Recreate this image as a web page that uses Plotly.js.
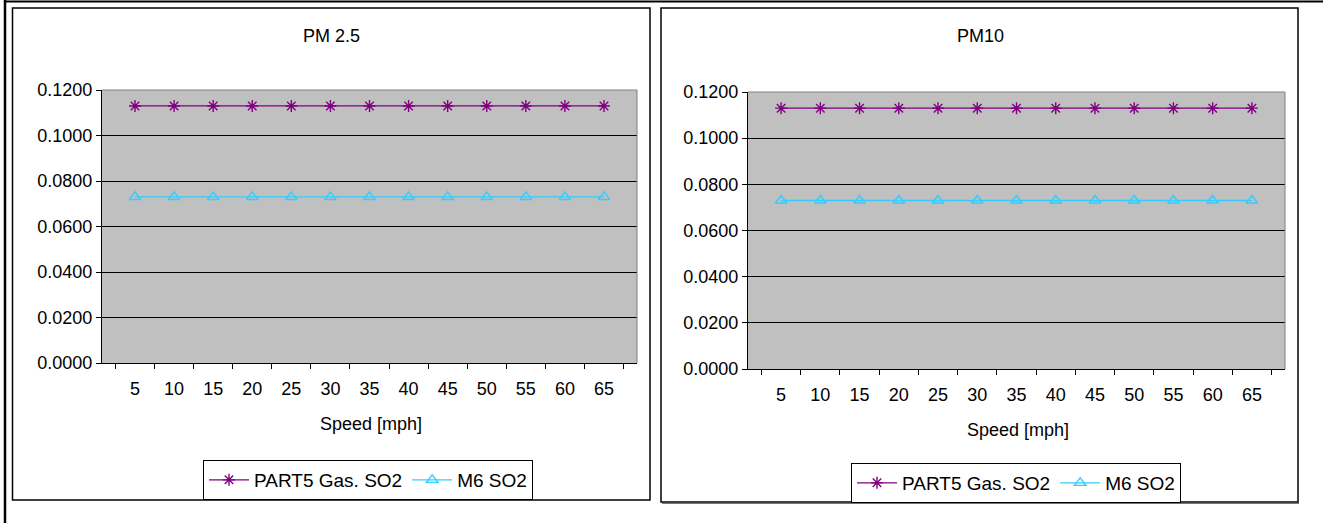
<!DOCTYPE html>
<html>
<head>
<meta charset="utf-8">
<script src="https://cdn.plot.ly/plotly-3.0.1.min.js"></script>
<style>html,body{margin:0;padding:0;background:#fff;}#chart{width:1323px;height:523px;}</style>
</head>
<body>
<div id="chart"></div>
<script>
// ---- data ----
const speeds = ['5','10','15','20','25','30','35','40','45','50','55','60','65'];
const part5PM25 = [0.113,0.113,0.113,0.113,0.113,0.113,0.113,0.113,0.113,0.113,0.113,0.113,0.113];
const m6PM25    = [0.073,0.073,0.073,0.073,0.073,0.073,0.073,0.073,0.073,0.073,0.073,0.073,0.073];
const part5PM10 = [0.113,0.113,0.113,0.113,0.113,0.113,0.113,0.113,0.113,0.113,0.113,0.113,0.113];
const m6PM10    = [0.073,0.073,0.073,0.073,0.073,0.073,0.073,0.073,0.073,0.073,0.073,0.073,0.073];
const yTicks = [0, 0.02, 0.04, 0.06, 0.08, 0.10, 0.12];
const seriesNames = ['PART5 Gas. SO2', 'M6 SO2'];
const chartTitles = ['PM 2.5', 'PM10'];
const xTitle = 'Speed [mph]';

const W = 1323, H = 523;
const px = v => v / W;
const py = v => 1 - v / H;
const FONT = 'Liberation Sans, Arial, sans-serif';
const FS = 18;
const LFS = 19;
const purple = '#800080';
const cyan = '#33CCFF';

function traces(p5, m6, xa, ya, lg) {
  return [
    {x: speeds, y: p5, name: seriesNames[0], type: 'scatter', mode: 'lines+markers',
     xaxis: xa, yaxis: ya, legend: lg,
     line: {color: purple, width: 1.3},
     marker: {symbol: 'asterisk-open', size: 10, color: purple, line: {color: purple, width: 1.4}}},
    {x: speeds, y: m6, name: seriesNames[1], type: 'scatter', mode: 'lines+markers',
     xaxis: xa, yaxis: ya, legend: lg,
     line: {color: cyan, width: 1.3},
     marker: {symbol: 'triangle-up-open', size: 10, color: cyan, line: {color: cyan, width: 1.4}}}
  ];
}

const data = [...traces(part5PM25, m6PM25, 'x', 'y', 'legend'),
              ...traces(part5PM10, m6PM10, 'x2', 'y2', 'legend2')];

function xax(domain, anchor) {
  return {domain: domain, anchor: anchor, type: 'category', showline: true, linecolor: '#000', linewidth: 1,
    ticks: 'outside', tickson: 'boundaries', ticklen: 5, tickcolor: '#000', showgrid: false,
    ticklabelstandoff: 9, tickfont: {family: FONT, size: FS, color: '#000'}, fixedrange: true};
}
function yax(domain, anchor) {
  return {domain: domain, anchor: anchor, range: [0, 0.12], tickvals: yTicks, tickformat: '.4f',
    showline: true, linecolor: '#000', linewidth: 1, ticks: 'outside', ticklen: 5, tickcolor: '#000',
    showgrid: true, gridcolor: '#000', gridwidth: 1, zeroline: false,
    tickfont: {family: FONT, size: FS, color: '#000'}, fixedrange: true};
}

const p1 = {l: 102, r: 637, t: 90, b: 363};
const p2 = {l: 748, r: 1285, t: 92, b: 369};

function legendCfg(x, y) {
  return {orientation: 'h', x: px(x), y: py(y), xanchor: 'left', yanchor: 'top',
    bordercolor: '#000', borderwidth: 1, bgcolor: '#fff', font: {family: FONT, size: LFS},
    itemwidth: 40, itemclick: false, itemdoubleclick: false};
}

const layout = {
  width: W, height: H, margin: {l: 0, r: 0, t: 0, b: 0},
  paper_bgcolor: '#fff', plot_bgcolor: '#C0C0C0',
  font: {family: FONT, size: FS, color: '#000'},
  xaxis: xax([px(p1.l), px(p1.r)], 'y'),
  yaxis: yax([py(p1.b), py(p1.t)], 'x'),
  xaxis2: xax([px(p2.l), px(p2.r)], 'y2'),
  yaxis2: yax([py(p2.b), py(p2.t)], 'x2'),
  legend: legendCfg(203, 460),
  legend2: legendCfg(851, 463),
  annotations: [
    {text: chartTitles[0], xref: 'paper', yref: 'paper', x: px(331), y: py(36), showarrow: false,
     xanchor: 'center', yanchor: 'middle', font: {family: FONT, size: FS}},
    {text: chartTitles[1], xref: 'paper', yref: 'paper', x: px(980), y: py(36), showarrow: false,
     xanchor: 'center', yanchor: 'middle', font: {family: FONT, size: FS}},
    {text: xTitle, xref: 'paper', yref: 'paper', x: px(371), y: py(424), showarrow: false,
     xanchor: 'center', yanchor: 'middle', font: {family: FONT, size: FS}},
    {text: xTitle, xref: 'paper', yref: 'paper', x: px(1018), y: py(430), showarrow: false,
     xanchor: 'center', yanchor: 'middle', font: {family: FONT, size: FS}}
  ],
  shapes: [
    // page border lines
    {type: 'line', xref: 'paper', yref: 'paper', x0: px(5), x1: px(5), y0: 0, y1: 1, line: {color: '#000', width: 2.5}},
    {type: 'line', xref: 'paper', yref: 'paper', x0: px(5), x1: 1, y0: py(1.5), y1: py(1.5), line: {color: '#000', width: 2}},
    // chart area borders
    {type: 'rect', xref: 'paper', yref: 'paper', x0: px(12.5), x1: px(650), y0: py(500), y1: py(8), line: {color: '#000', width: 1.5}},
    {type: 'rect', xref: 'paper', yref: 'paper', x0: px(661), x1: px(1298), y0: py(502), y1: py(8), line: {color: '#000', width: 1.5}},
    {type: 'line', xref: 'paper', yref: 'paper', x0: px(662), x1: px(1299), y0: py(503), y1: py(503), line: {color: '#444', width: 1.5}},
    // plot area gray borders (top/right)
    {type: 'line', xref: 'x domain', yref: 'y domain', x0: 0, x1: 1, y0: 1, y1: 1, line: {color: '#808080', width: 1}},
    {type: 'line', xref: 'x domain', yref: 'y domain', x0: 1, x1: 1, y0: 0, y1: 1, line: {color: '#808080', width: 1}},
    {type: 'line', xref: 'x2 domain', yref: 'y2 domain', x0: 0, x1: 1, y0: 1, y1: 1, line: {color: '#808080', width: 1}},
    {type: 'line', xref: 'x2 domain', yref: 'y2 domain', x0: 1, x1: 1, y0: 0, y1: 1, line: {color: '#808080', width: 1}}
  ]
};

Plotly.newPlot('chart', data, layout, {displayModeBar: false, staticPlot: true});
</script>
</body>
</html>
